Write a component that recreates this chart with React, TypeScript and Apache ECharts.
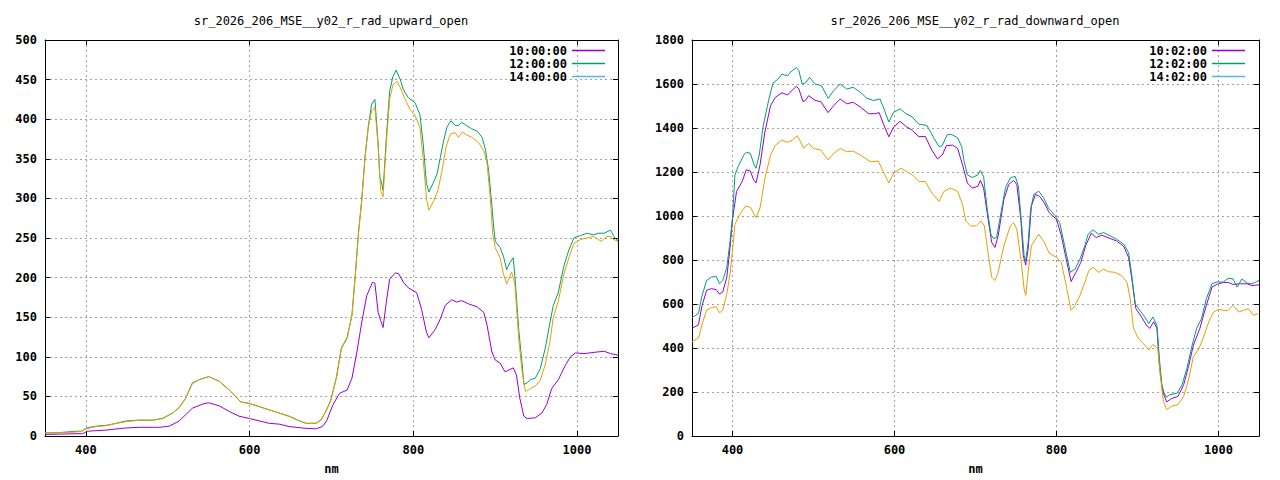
import React, { useEffect, useRef } from "react";
import * as echarts from "echarts";

// ---------- data ----------
const xTicks = [400, 600, 800, 1000];

const upTitle = "sr_2026_206_MSE__y02_r_rad_upward_open";
const downTitle = "sr_2026_206_MSE__y02_r_rad_downward_open";
const upNames = ["10:00:00", "12:00:00", "14:00:00"];
const downNames = ["10:02:00", "12:02:00", "14:02:00"];

// upward, 10:00:00 (purple)
const up10: number[][] = [
  [350, 2], [396, 3], [402, 6], [425, 7.5], [447, 10], [465, 11], [490, 11], [502, 12.5], [514, 19],
  [522, 27], [530, 35], [543, 40.5], [550, 42], [563, 38], [575, 31], [587, 25], [600, 22], [612, 19],
  [624, 16], [636, 15], [648, 12], [665, 10], [681, 9], [689, 12], [694, 19], [702, 40], [710, 54],
  [719, 58], [725, 73], [731, 106], [737, 144], [743, 177], [750, 194], [753, 193], [757, 156],
  [760, 146], [763, 137], [767, 169], [771, 198], [778, 206], [782, 205], [788, 194], [794, 187],
  [804, 181], [810, 160], [816, 131], [819, 124], [827, 135], [833, 148], [839, 165], [847, 172],
  [853, 169], [859, 171], [867, 167], [878, 163], [886, 156], [890, 140], [896, 106], [900, 96],
  [906, 92], [912, 81], [916, 83], [922, 86], [926, 77], [930, 48], [935, 25], [939, 22], [949, 23],
  [957, 29], [963, 40], [969, 60], [977, 71], [986, 90], [992, 100], [998, 105], [1008, 104],
  [1016, 105], [1024, 106], [1033, 107], [1041, 104], [1050, 102],
];

// upward, 12:00:00 (green)
const up12: number[][] = [
  [350, 4], [364, 4], [388, 6], [395, 6], [400, 10], [413, 12.5], [425, 13.5], [437, 16], [449, 19],
  [465, 20], [482, 20], [494, 22.5], [506, 29], [514, 36], [522, 48], [530, 67], [538, 71], [550, 75],
  [563, 69], [575, 58], [583, 50], [589, 43], [600, 41], [612, 37], [624, 33], [636, 29], [648, 25],
  [661, 19], [669, 16], [681, 16], [687, 20], [693, 31], [699, 45], [706, 74], [712, 111], [719, 124],
  [725, 153], [729, 203], [733, 257], [737, 299], [741, 353], [745, 391], [749, 419], [753, 425],
  [757, 369], [759, 327], [761, 321], [763, 310], [767, 377], [771, 435], [775, 454], [779, 462],
  [784, 450], [788, 437], [794, 427], [802, 421], [808, 406], [812, 369], [816, 319], [819, 308],
  [824, 319], [829, 331], [833, 352], [837, 373], [841, 390], [846, 398], [851, 392], [855, 392],
  [859, 396], [865, 392], [871, 388], [878, 385], [884, 377], [888, 362], [892, 335], [896, 290],
  [898, 265], [900, 246], [906, 238], [910, 227], [914, 210], [918, 219], [922, 225], [924, 202],
  [929, 131], [933, 90], [935, 65], [939, 67], [943, 71], [949, 73], [955, 85], [961, 110], [967, 144],
  [971, 165], [977, 181], [984, 215], [990, 235], [996, 250], [1004, 253], [1012, 256], [1020, 254],
  [1026, 256], [1033, 256], [1041, 260], [1045, 252], [1050, 246],
];

// upward, 14:00:00 (light blue) has no visible trace
const up14: number[][] = [];

// upward, untitled trace (orange)
const upExtra: number[][] = [
  [350, 4], [364, 4], [388, 5], [395, 6], [400, 9], [413, 12], [425, 13], [437, 16], [449, 18],
  [465, 20], [482, 20], [494, 22], [506, 29], [514, 36], [522, 48], [530, 66], [538, 71], [550, 75],
  [563, 69], [575, 58], [583, 50], [589, 43], [600, 41], [612, 37], [624, 33], [636, 29], [648, 25],
  [661, 19], [669, 16], [681, 16], [687, 20], [693, 31], [699, 44], [706, 73], [712, 110], [719, 123],
  [725, 152], [729, 202], [733, 256], [737, 298], [741, 352], [745, 390], [749, 410], [753, 415],
  [757, 365], [760, 310], [763, 302], [767, 370], [771, 425], [775, 443], [780, 448], [784, 440],
  [790, 425], [796, 412], [802, 405], [808, 390], [812, 350], [816, 300], [819, 285], [824, 295],
  [830, 310], [835, 335], [840, 365], [845, 381], [851, 383], [855, 377], [860, 384], [865, 380],
  [872, 377], [880, 370], [886, 360], [890, 345], [894, 300], [897, 255], [900, 238], [906, 225],
  [910, 205], [914, 192], [920, 207], [924, 192], [929, 120], [933, 80], [937, 56], [943, 60],
  [949, 63], [955, 70], [961, 90], [967, 120], [971, 150], [977, 170], [984, 205], [990, 225],
  [996, 243], [1004, 248], [1012, 250], [1020, 252], [1026, 248], [1030, 246], [1036, 252],
  [1041, 252], [1045, 248], [1050, 246],
];

// downward, 10:02:00 (purple)
const down10: number[][] = [
  [350, 490], [358, 505], [362, 587], [368, 662], [374, 670], [380, 665], [384, 645], [388, 655],
  [393, 722], [397, 857], [400, 985], [405, 1112], [412, 1157], [417, 1210], [422, 1205], [426, 1165],
  [429, 1150], [434, 1232], [440, 1382], [447, 1502], [453, 1540], [461, 1560], [468, 1550],
  [471, 1562], [479, 1590], [482, 1577], [487, 1520], [490, 1525], [494, 1547], [502, 1525],
  [509, 1520], [518, 1470], [525, 1502], [533, 1532], [541, 1510], [549, 1517], [558, 1495],
  [568, 1465], [576, 1465], [581, 1470], [587, 1412], [593, 1360], [599, 1405], [607, 1430],
  [615, 1405], [622, 1390], [630, 1360], [638, 1362], [646, 1300], [653, 1260], [659, 1277],
  [664, 1320], [672, 1322], [678, 1307], [684, 1232], [690, 1150], [696, 1127], [703, 1135],
  [706, 1162], [710, 1128], [715, 1000], [720, 880], [724, 857], [728, 910], [735, 1075], [741, 1143],
  [747, 1162], [751, 1143], [756, 985], [759, 820], [762, 777], [765, 850], [769, 1045], [774, 1098],
  [779, 1090], [785, 1060], [791, 1015], [800, 985], [806, 910], [812, 804], [818, 702], [824, 744],
  [830, 789], [836, 865], [843, 922], [849, 902], [856, 913], [866, 898], [874, 887], [883, 862],
  [889, 812], [893, 714], [898, 579], [905, 541], [911, 504], [915, 489], [920, 519], [924, 489],
  [927, 323], [931, 203], [936, 155], [942, 170], [950, 180], [957, 233], [963, 316], [969, 413],
  [977, 489], [985, 594], [992, 677], [998, 689], [1006, 698], [1012, 698], [1018, 689], [1027, 692],
  [1035, 692], [1041, 684], [1050, 687],
];

// downward, 12:02:00 (green)
const down12: number[][] = [
  [350, 538], [358, 557], [362, 632], [368, 707], [374, 722], [380, 725], [384, 692], [388, 707],
  [393, 767], [397, 887], [400, 992], [403, 1187], [407, 1225], [414, 1277], [417, 1290], [422, 1285],
  [426, 1240], [429, 1217], [433, 1277], [438, 1412], [445, 1532], [450, 1604], [456, 1622],
  [461, 1645], [468, 1637], [471, 1652], [479, 1675], [482, 1660], [486, 1600], [490, 1604],
  [495, 1630], [502, 1600], [510, 1592], [518, 1535], [525, 1570], [533, 1600], [541, 1577],
  [549, 1585], [558, 1562], [566, 1535], [574, 1525], [582, 1532], [587, 1487], [593, 1427],
  [599, 1472], [607, 1487], [614, 1465], [622, 1450], [630, 1417], [640, 1412], [649, 1352],
  [655, 1315], [659, 1320], [665, 1370], [671, 1370], [678, 1355], [683, 1315], [686, 1247],
  [690, 1187], [696, 1175], [703, 1187], [706, 1207], [710, 1180], [714, 1045], [719, 917], [722, 898],
  [726, 902], [730, 985], [737, 1128], [743, 1173], [749, 1180], [753, 1135], [757, 955], [760, 820],
  [762, 797], [765, 880], [768, 1030], [772, 1098], [778, 1113], [784, 1083], [790, 1037], [798, 1003],
  [804, 970], [810, 865], [817, 744], [823, 759], [829, 804], [835, 865], [839, 917], [845, 937],
  [852, 917], [858, 925], [866, 910], [874, 895], [883, 872], [889, 834], [893, 729], [897, 601],
  [903, 571], [909, 541], [914, 511], [919, 541], [924, 504], [927, 353], [930, 233], [933, 195],
  [936, 176], [940, 188], [949, 195], [955, 233], [961, 308], [967, 406], [973, 489], [979, 534],
  [985, 624], [992, 692], [998, 700], [1006, 700], [1012, 717], [1018, 714], [1023, 677], [1029, 714],
  [1035, 696], [1041, 691], [1050, 707],
];

// downward, 14:02:00 (light blue) has no visible trace
const down14: number[][] = [];

// downward, untitled trace (orange)
const downExtra: number[][] = [
  [350, 428], [358, 445], [364, 527], [368, 572], [374, 585], [380, 587], [384, 560], [388, 572],
  [393, 647], [397, 737], [400, 842], [403, 962], [409, 1007], [416, 1045], [422, 1040], [429, 992],
  [434, 1037], [440, 1172], [447, 1277], [453, 1322], [461, 1345], [468, 1335], [474, 1345],
  [480, 1365], [484, 1337], [488, 1307], [494, 1330], [500, 1307], [509, 1300], [518, 1255],
  [525, 1285], [533, 1307], [541, 1292], [549, 1295], [558, 1277], [570, 1247], [580, 1250],
  [587, 1195], [593, 1150], [599, 1195], [608, 1217], [615, 1202], [623, 1185], [630, 1157],
  [638, 1157], [646, 1105], [655, 1067], [661, 1112], [669, 1127], [678, 1112], [684, 1052], [688, 977],
  [694, 955], [701, 955], [707, 977], [711, 955], [716, 820], [720, 722], [724, 707], [728, 744],
  [735, 865], [743, 955], [747, 970], [751, 940], [756, 804], [760, 669], [762, 639], [765, 744],
  [769, 865], [778, 917], [785, 880], [791, 831], [800, 812], [806, 789], [812, 684], [818, 571],
  [823, 594], [829, 639], [835, 699], [840, 752], [845, 767], [852, 744], [858, 759], [864, 747],
  [872, 744], [880, 729], [887, 699], [891, 624], [895, 489], [901, 444], [907, 421], [914, 391],
  [919, 416], [925, 398], [928, 278], [932, 158], [936, 120], [942, 135], [950, 143], [957, 180],
  [963, 255], [969, 361], [975, 391], [981, 444], [988, 519], [994, 564], [1000, 576], [1006, 571],
  [1012, 571], [1018, 594], [1025, 564], [1031, 571], [1037, 579], [1043, 549], [1049, 556],
];

// ---------- styling ----------
const MONO = "'DejaVu Sans Mono', 'Liberation Mono', monospace";
const COLORS = ["#9400d3", "#009e73", "#56b4e9", "#e69f00"];
const plain = (v: number) => String(v);

function xAxes(gridIndex: number) {
  const common = {
    gridIndex,
    type: "value" as const,
    min: 350,
    max: 1050,
    axisLine: { show: true, onZero: false, lineStyle: { color: "#000", width: 1 } },
    axisTick: { show: true, inside: true, length: 5, customValues: xTicks, lineStyle: { color: "#000" } },
  };
  return [
    {
      ...common,
      position: "bottom",
      name: "nm",
      nameLocation: "middle",
      nameGap: 27,
      nameTextStyle: { fontFamily: MONO, fontSize: 12, fontWeight: "bold", color: "#000" },
      axisLabel: {
        customValues: xTicks,
        formatter: plain,
        margin: 8,
        fontFamily: MONO,
        fontSize: 12,
        fontWeight: "bold",
        color: "#000",
      },
      splitLine: { show: true, lineStyle: { color: "#a0a0a0", width: 1, type: [2, 3] } },
    },
    {
      ...common,
      position: "top",
      axisLabel: { show: false },
      splitLine: { show: false },
    },
  ];
}

function yAxes(gridIndex: number, max: number, interval: number) {
  const common = {
    gridIndex,
    type: "value" as const,
    min: 0,
    max,
    interval,
    axisLine: { show: true, onZero: false, lineStyle: { color: "#000", width: 1 } },
    axisTick: { show: true, inside: true, length: 5, lineStyle: { color: "#000" } },
  };
  return [
    {
      ...common,
      position: "left",
      axisLabel: {
        formatter: plain,
        margin: 8,
        fontFamily: MONO,
        fontSize: 12,
        fontWeight: "bold",
        color: "#000",
      },
      splitLine: { show: true, lineStyle: { color: "#a0a0a0", width: 1, type: [2, 3] } },
    },
    {
      ...common,
      position: "right",
      axisLabel: { show: false },
      splitLine: { show: false },
    },
  ];
}

function lineSeries(name: string, data: number[][], color: string, axisBase: number) {
  return {
    type: "line",
    name,
    data,
    xAxisIndex: axisBase,
    yAxisIndex: axisBase,
    showSymbol: false,
    symbol: "none",
    lineStyle: { color, width: 1 },
    itemStyle: { color },
    emphasis: { disabled: true },
    silent: true,
  };
}

function legend(names: string[], right: number) {
  return {
    data: names,
    orient: "vertical",
    right,
    top: 44,
    align: "right",
    icon: "rect",
    itemWidth: 33,
    itemHeight: 1.5,
    itemGap: 0,
    padding: 0,
    selectedMode: false,
    textStyle: { fontFamily: MONO, fontSize: 12, fontWeight: "bold", color: "#000", lineHeight: 13 },
  };
}

export default function App() {
  const ref = useRef<HTMLDivElement>(null);

  useEffect(() => {
    document.body.style.margin = "0";
    if (!ref.current) return;
    const chart = echarts.init(ref.current, null, { renderer: "svg" });
    const option = {
      animation: false,
      backgroundColor: "#ffffff",
      grid: [
        { left: 45, top: 40, width: 573, height: 398 },
        { left: 692, top: 40, width: 567, height: 398 },
      ],
      xAxis: [...xAxes(0), ...xAxes(1)],
      yAxis: [...yAxes(0, 500, 50), ...yAxes(1, 1800, 200)],
      legend: [legend(upNames, 675), legend(downNames, 35)],
      graphic: [
        {
          type: "text",
          x: 331,
          y: 21,
          style: {
            text: upTitle,
            textAlign: "center",
            textVerticalAlign: "middle",
            font: `12px ${MONO}`,
            fill: "#000",
          },
        },
        {
          type: "text",
          x: 975,
          y: 21,
          style: {
            text: downTitle,
            textAlign: "center",
            textVerticalAlign: "middle",
            font: `12px ${MONO}`,
            fill: "#000",
          },
        },
      ],
      series: [
        lineSeries(upNames[0], up10, COLORS[0], 0),
        lineSeries(upNames[1], up12, COLORS[1], 0),
        lineSeries(upNames[2], up14, COLORS[2], 0),
        lineSeries("upward_extra", upExtra, COLORS[3], 0),
        lineSeries(downNames[0], down10, COLORS[0], 2),
        lineSeries(downNames[1], down12, COLORS[1], 2),
        lineSeries(downNames[2], down14, COLORS[2], 2),
        lineSeries("downward_extra", downExtra, COLORS[3], 2),
      ],
    };
    chart.setOption(option as any);
    return () => chart.dispose();
  }, []);

  return (
    <div
      ref={ref}
      style={{ position: "absolute", left: 0, top: 0, width: 1280, height: 480, background: "#fff" }}
    />
  );
}
